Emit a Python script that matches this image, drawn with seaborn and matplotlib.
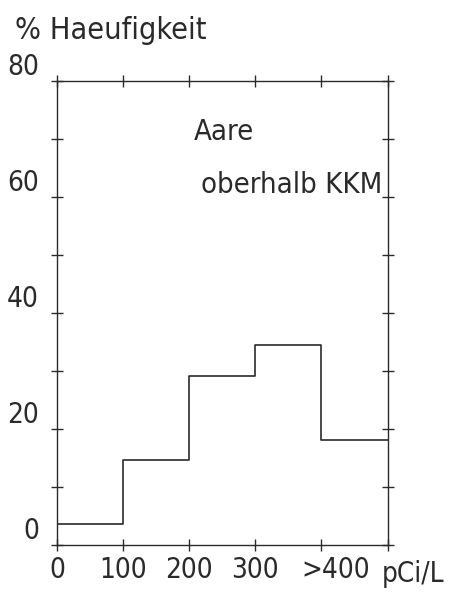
import numpy as np
import pandas as pd
import seaborn as sns
import matplotlib.pyplot as plt
import matplotlib.transforms as mtrans

# bins (pCi/L) and frequency in %
bin_edges = [0, 100, 200, 300, 400, 500]
bin_centers = [50, 150, 250, 350, 450]
freq_pct = [3.6, 14.6, 29.1, 34.5, 18.1]
x_tick_pos = [0, 100, 200, 300, 400, 500]
x_tick_labels = ["0", "100", "200", "300", ">400", ""]
y_tick_pos = [0, 10, 20, 30, 40, 50, 60, 70, 80]
y_tick_labels = ["0", "", "20", "", "40", "", "60", "", "80"]

sns.set_theme(style="white")
plt.rcParams['font.family'] = ['DejaVu Sans']
plt.rcParams['font.stretch'] = 'condensed'
ink = "#2a2a2a"

df = pd.DataFrame({"conc": bin_centers, "pct": freq_pct})

fig = plt.figure(figsize=(4.57, 6.03), dpi=100)
ax = fig.add_axes([0.1247, 0.0962, 0.7233, 0.77])

sns.histplot(data=df, x="conc", weights="pct", bins=bin_edges,
             element="step", fill=False, color=ink, linewidth=1.2, ax=ax)

ax.set_xlim(0, 500)
ax.set_ylim(0, 80)
ax.set_xticks(x_tick_pos)
ax.set_xticklabels(x_tick_labels)
ax.set_yticks(y_tick_pos)
ax.set_yticklabels(y_tick_labels)
ax.set_xlabel("")
ax.set_ylabel("")

for s in ax.spines.values():
    s.set_visible(True)
    s.set_color(ink)
    s.set_linewidth(1.0)

ax.tick_params(direction="inout", length=8, width=1.0, color=ink,
               top=True, right=True, bottom=True, left=True,
               labelsize=20, labelcolor=ink)
ax.tick_params(axis="y", pad=9)
ax.tick_params(axis="x", pad=4)
for lab in ax.get_yticklabels():
    lab.set_va("bottom")
# the ">400" label sits a little right of its tick
gt = ax.get_xticklabels()[4]
gt.set_transform(gt.get_transform() + mtrans.ScaledTranslation(10 / 72, 0, fig.dpi_scale_trans))

fig.text(0.033, 0.935, "% Haeufigkeit", fontsize=22, color=ink, ha="left", va="baseline")
ax.text(492, -2.5, "pCi/L", fontsize=20, color=ink, ha="left", va="top",
        transform=ax.transData, clip_on=False)

ax.text(0.415, 0.86, "Aare", transform=ax.transAxes, fontsize=21, color=ink,
        ha="left", va="bottom")
ax.text(0.985, 0.745, "oberhalb KKM", transform=ax.transAxes, fontsize=21, color=ink,
        ha="right", va="bottom")

fig.savefig("out.png", dpi=100)
